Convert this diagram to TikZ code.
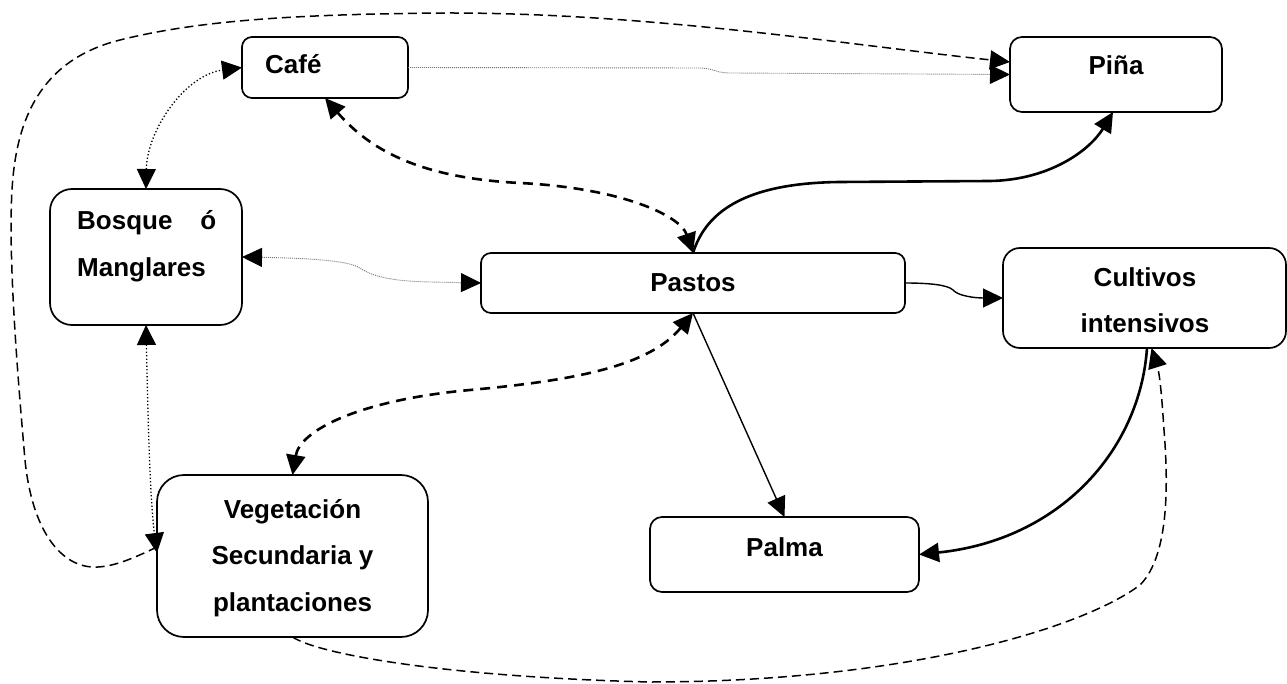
\documentclass[tikz,border=0pt]{standalone}
\usepackage{fontspec}
\setmainfont{Liberation Sans}
\usetikzlibrary{arrows.meta,calc}
\begin{document}
\begin{tikzpicture}[x=1pt,y=-1pt,
  >={Triangle[length=20pt,width=19pt,color=black]},
  box/.style={draw=black, line width=1.7pt, inner sep=0pt, outer sep=0pt},
  lbl/.style={inner sep=0pt, font=\fontsize{26}{30}\selectfont\bfseries},
  dotline/.style={draw=black, line width=1.3pt, dash pattern=on 1.3pt off 2.2pt},
  greydot/.style={draw=black!55, line width=0.9pt, dash pattern=on 1pt off 1pt},
  thickdash/.style={draw=black, line width=2.6pt, dash pattern=on 10pt off 7pt},
  thindash/.style={draw=black, line width=1.5pt, dash pattern=on 9pt off 5pt},
  thickline/.style={draw=black, line width=2.6pt},
  thinline/.style={draw=black, line width=1.4pt}]

\path[use as bounding box] (0,0) rectangle (1287,684);

% boxes
\node[box, minimum width=166pt, minimum height=61pt, rounded corners=10pt] (cafe) at (325,67.5) {};
\node[box, minimum width=212pt, minimum height=75pt, rounded corners=12pt] (pina) at (1116,74.5) {};
\node[box, minimum width=192pt, minimum height=136pt, rounded corners=22pt] (bosque) at (146,257) {};
\node[box, minimum width=424pt, minimum height=60pt, rounded corners=10pt] (pastos) at (693,283) {};
\node[box, minimum width=283pt, minimum height=100pt, rounded corners=17pt] (cultivos) at (1144.5,298) {};
\node[box, minimum width=271pt, minimum height=162pt, rounded corners=27pt] (veg) at (292.5,556) {};
\node[box, minimum width=269pt, minimum height=75pt, rounded corners=12pt] (palma) at (784.5,554.5) {};

% labels
\node[lbl, anchor=base west] (cafeT) at (265,74) {Café};
\node[lbl, anchor=base] (pinaT) at (1116,75) {Piña};
\node[lbl, anchor=base west] (bosqueA) at (77,230) {\makebox[139pt][s]{Bosque\hfill ó}};
\node[lbl, anchor=base west] (bosqueB) at (77,277) {Manglares};
\node[lbl, anchor=base] (pastosT) at (693,292) {Pastos};
\node[lbl, anchor=base] (cultA) at (1145,287) {Cultivos};
\node[lbl, anchor=base] (cultB) at (1145,333) {intensivos};
\node[lbl, anchor=base] (vegA) at (292.5,518) {Vegetación};
\node[lbl, anchor=base] (vegB) at (292.5,564) {Secundaria y};
\node[lbl, anchor=base] (vegC) at (292.5,611) {plantaciones};
\node[lbl, anchor=base] (palmaT) at (784.5,556) {Palma};

% Bosque <-> Cafe
\draw[dotline,<->] (bosque.north) .. controls (147,130) and (185,75) .. (cafe.west);
% Cafe -> Pina
\draw[greydot,->] (cafe.east) -- (700,68) .. controls (712,68) and (716,73) .. (730,73) -- (pina.west);
% big loop: Vegetacion -> Pina
\draw[thindash,->] ([yshift=9pt]veg.west) .. controls (130,560) and (110,568) .. (92,567)
  .. controls (60,565) and (32,530) .. (25,460)
  .. controls (18,380) and (8,260) .. (12,190)
  .. controls (16,120) and (40,60) .. (120,40)
  .. controls (200,20) and (300,14) .. (450,13)
  .. controls (650,13) and (850,45) .. ([yshift=12.5pt]pina.west);
% Cafe <-> Pastos
\draw[thickdash,<->] (cafe.south) .. controls (370,150) and (420,178) .. (520,183)
  .. controls (620,188) and (680,215) .. (pastos.north);
% Bosque <-> Pastos
\draw[greydot,<->] (bosque.east) .. controls (300,258) and (345,260) .. (358,267)
  .. controls (368,273) and (380,281) .. (430,282) -- (pastos.west);
% Pastos -> Pina
\draw[thickline,->] (pastos.north) .. controls (705,215) and (740,183) .. (840,182)
  -- (990,181) .. controls (1050,180) and (1090,150) .. ([xshift=-3pt]pina.south);
% Pastos -> Cultivos
\draw[thinline,->] (pastos.east) .. controls (930,283) and (948,285) .. (953,290)
  .. controls (958,296) and (975,298) .. (cultivos.west);
% Pastos <-> Vegetacion
\draw[thickdash,<->] (pastos.south) .. controls (650,365) and (580,380) .. (470,390)
  .. controls (360,400) and (300,430) .. (veg.north);
% Pastos -> Palma
\draw[thinline,->] (pastos.south) -- (palma.north);
% Cultivos -> Palma
\draw[thickline,->] ([xshift=2.5pt]cultivos.south) .. controls (1140,450) and (1060,540) .. (palma.east);
% Vegetacion -> Cultivos
\draw[thindash,->] (veg.south) .. controls (320,655) and (450,677) .. (650,682)
  .. controls (900,682) and (1080,630) .. (1140,585)
  .. controls (1170,555) and (1168,480) .. (1164,430)
  .. controls (1162,400) and (1160,375) .. ([xshift=7pt]cultivos.south);
% Bosque <-> Vegetacion
\draw[dotline,<->] (bosque.south) .. controls (148,420) and (150,500) .. ([yshift=3pt]veg.west);
\end{tikzpicture}
\end{document}
